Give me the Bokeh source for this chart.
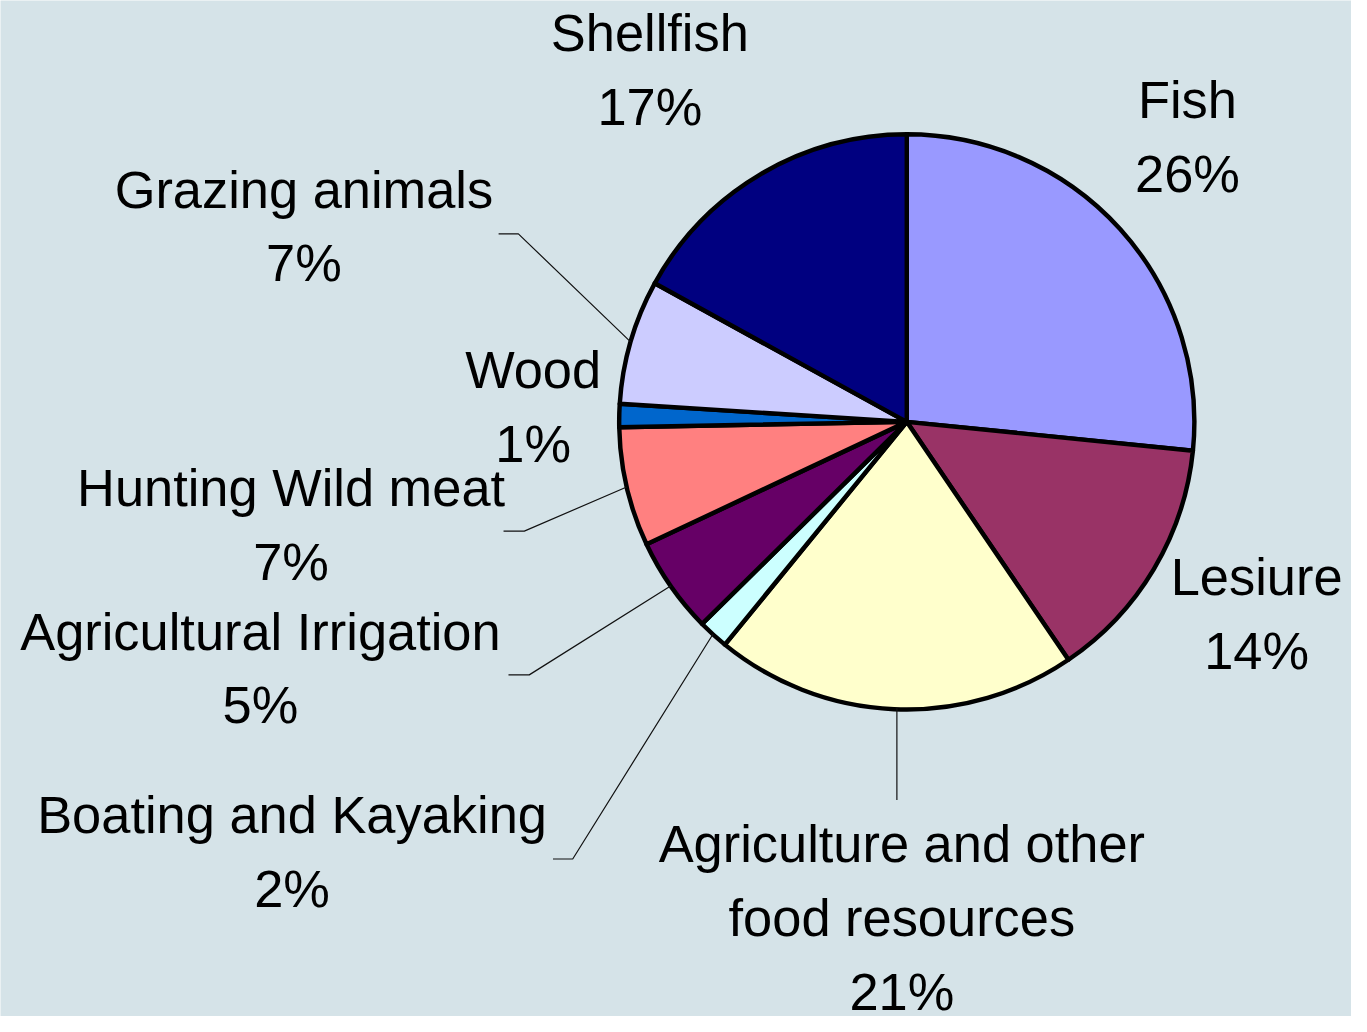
import math
from bokeh.plotting import figure
from bokeh.models import ColumnDataSource, Range1d
from bokeh.core.properties import value
from bokeh.embed import file_html
from bokeh.resources import INLINE

# ---- data (clockwise from 12 o'clock) ----
categories = ["Fish", "Lesiure", "Agriculture and other\nfood resources",
              "Boating and Kayaking", "Agricultural Irrigation",
              "Hunting Wild meat", "Wood", "Grazing animals", "Shellfish"]
shares = [26.6, 13.9, 20.4, 1.7, 5.4, 6.7, 1.3, 7.0, 17.0]
pct_labels = ["26%", "14%", "21%", "2%", "5%", "7%", "1%", "7%", "17%"]
colors = ["#9999FF", "#993366", "#FFFFCC", "#CCFFFF", "#660066",
          "#FF8080", "#0066CC", "#CCCCFF", "#000080"]

# ---- layout (reference pixel coordinates, y down) ----
W, H = 1367, 1032
PW, PH = W - 16, H - 16
SC = PW / W
BG = "#D5E3E8"
CX, CY, R = 917, 428, 291
FS = 53
LINE_H = 75
BASE_SHIFT = -20
# label: (center x, first baseline y)
label_pos = [(1201, 121), (1271, 606), (912, 877), (295, 847), (263, 661),
             (294, 515), (539, 395), (307, 212), (657, 53)]
# leader elbows: index -> points from label side to elbow
leaders = {
    7: [(504, 237), (524, 237)],
    5: [(509, 539), (530, 539)],
    4: [(514, 685), (535, 685)],
    3: [(559, 872), (579, 872)],
    2: [(907, 812)],
}


def Y(py):
    return H - py


p = figure(width=PW, height=PH, output_backend="svg", toolbar_location=None,
           x_range=Range1d(0, W), y_range=Range1d(0, H),
           x_axis_type=None, y_axis_type=None, min_border=0,
           background_fill_color=BG, border_fill_color=BG, outline_line_color=None)
p.grid.visible = False

total = sum(shares)
starts, ends, mids = [], [], []
cum = 0.0
for s in shares:
    c0 = cum / total
    cum += s
    c1 = cum / total
    starts.append(math.pi / 2 - 2 * math.pi * c1)
    ends.append(math.pi / 2 - 2 * math.pi * c0)
    mids.append(math.pi / 2 - 2 * math.pi * (c0 + c1) / 2)

src = ColumnDataSource(dict(start=starts, end=ends, color=colors))
p.wedge(x=CX, y=Y(CY), radius=R, start_angle="start", end_angle="end",
        fill_color="color", line_color="black", line_width=4.5 * SC, line_join="round",
        source=src)

# leader lines
for i, pts in leaders.items():
    if len(pts) == 1:
        # vertical leader straight up to the rim
        ex = pts[0][0]
        ey = Y(CY) - math.sqrt(R * R - (ex - CX) ** 2)
    else:
        a = mids[i]
        ex = CX + R * math.cos(a)
        ey = Y(CY) + R * math.sin(a)
    xs = [pt[0] for pt in pts] + [ex]
    ys = [Y(pt[1]) for pt in pts] + [ey]
    p.line(xs, ys, line_color="#111111", line_width=1.2)

# labels
tx, ty, tt = [], [], []
for i, name in enumerate(categories):
    x0, y0 = label_pos[i]
    lines = name.split("\n") + [pct_labels[i]]
    for k, ln in enumerate(lines):
        tx.append(x0)
        ty.append(Y(y0 + BASE_SHIFT + k * LINE_H))
        tt.append(ln)
p.text(x=tx, y=ty, text=tt, text_font=value("Liberation Sans"),
       text_font_size=f"{FS * SC:.1f}px",
       text_align="center", text_baseline="alphabetic", text_color="black")

html = file_html(p, INLINE)
html = html.replace("<body>", f'<body style="background-color:{BG};">', 1)
open("out.html", "w").write(html)
